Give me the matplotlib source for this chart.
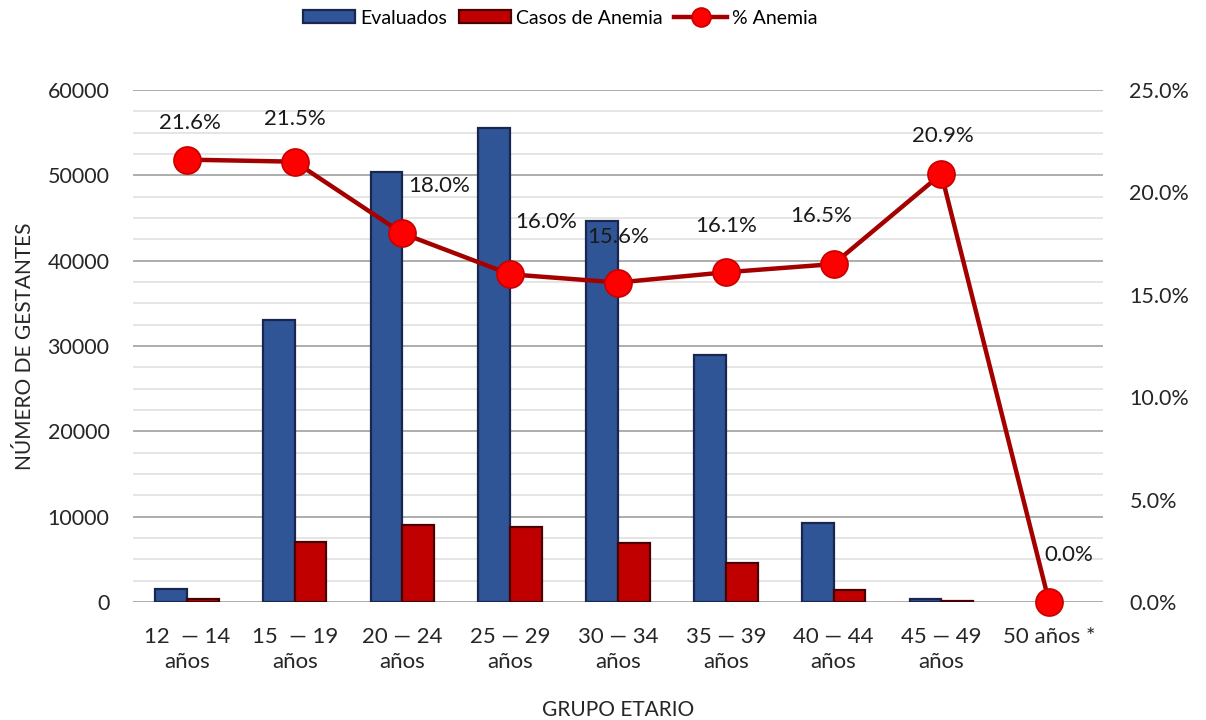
import numpy as np
import matplotlib
matplotlib.use("Agg")
import matplotlib.pyplot as plt
from matplotlib.ticker import MultipleLocator, FuncFormatter

#Data
grupos = ["12  — 14\naños", "15  — 19\naños", "20 — 24\naños", "25 — 29\naños", "30 — 34\naños",
          "35 — 39\naños", "40 — 44\naños", "45 — 49\naños", "50 años *"]
evaluados = [1500, 33000, 50400, 55500, 44700, 29000, 9200, 400, 0]
casos_anemia = [320, 7000, 9050, 8800, 6900, 4600, 1400, 80, 0]
pct_anemia = [21.6, 21.5, 18.0, 16.0, 15.6, 16.1, 16.5, 20.9, 0.0]

#Label offsets in pixels (layout only)
label_dx = [3, 0, 37, 36, 0, 0, -12, 2, 20]
label_dy = [37, 43, 47, 52, 46, 46, 48, 38, 47]

plt.rcParams["font.family"] = ["Lato", "DejaVu Sans"]

#Create figure
fig = plt.figure(figsize=(12.06, 7.2), dpi=100)
ax = fig.add_axes([133 / 1206, 1 - 602 / 720, 970 / 1206, 512 / 720])
ax2 = ax.twinx()

x = np.arange(len(grupos))
w = 0.295

#Bars
bars1 = ax.bar(x - w / 2, evaluados, w, color="#2F5597", edgecolor="#1A2650", linewidth=1.6,
               label="Evaluados", zorder=3)
bars2 = ax.bar(x + w / 2, casos_anemia, w, color="#C00000", edgecolor="#4A0000", linewidth=1.6,
               label="Casos de Anemia", zorder=3)
#No outline for empty bars
for b in list(bars1) + list(bars2):
    if b.get_height() == 0:
        b.set_visible(False)

ax.set_xlim(-0.5, len(grupos) - 0.5)
ax.set_ylim(0, 60000)
ax.yaxis.set_major_locator(MultipleLocator(10000))
ax.yaxis.set_minor_locator(MultipleLocator(2500))
ax.grid(which="major", axis="y", color="#ADADAD", linewidth=1.4, zorder=0)
ax.grid(which="minor", axis="y", color="#E0E0E0", linewidth=1.2, zorder=0)
ax.set_axisbelow(True)
ax.set_xticks(x)
ax.set_xticklabels(grupos, fontsize=16, color="#262626", linespacing=1.3)
ax.tick_params(axis="x", length=0, pad=18)
ax.tick_params(axis="y", which="both", length=0, pad=17, labelsize=15.5, labelcolor="#262626")
ax.set_ylabel("NÚMERO DE GESTANTES", fontsize=15, color="#262626", labelpad=9)
ax.set_xlabel("GRUPO ETARIO", fontsize=15, color="#262626", labelpad=20)

#Line for % anemia on the secondary axis
pct = np.array(pct_anemia) / 100
ax2.plot(x, pct, color="#A50000", linewidth=3.2, marker="o", markersize=19.5,
         markerfacecolor="#FF0000", markeredgecolor="#C80000", markeredgewidth=1.2,
         label="% Anemia", clip_on=False, zorder=4)
ax2.set_ylim(0, 0.25)
ax2.yaxis.set_major_locator(MultipleLocator(0.05))
ax2.yaxis.set_major_formatter(FuncFormatter(lambda v, p: "%.1f%%" % (v * 100)))
ax2.tick_params(axis="y", length=0, pad=19, labelsize=15.5, labelcolor="#262626")

#Data labels
for i in range(len(pct)):
    ax2.annotate("%.1f%%" % pct_anemia[i], (x[i], pct[i]), xytext=(label_dx[i], label_dy[i]),
                 textcoords="offset pixels", ha="center", va="center", fontsize=16,
                 color="#1A1A1A", zorder=5)

for a in [ax, ax2]:
    for s in a.spines.values():
        s.set_visible(False)

#Legend
h1, l1 = ax.get_legend_handles_labels()
h2, l2 = ax2.get_legend_handles_labels()
fig.legend(h1 + h2, l1 + l2, loc="center", bbox_to_anchor=(560 / 1206, 1 - 18 / 720), ncol=3,
           frameon=False, fontsize=14, handlelength=2.7, handleheight=0.6, columnspacing=0.6,
           handletextpad=0.25, markerscale=0.7)

plt.savefig("out.png", dpi=100)
